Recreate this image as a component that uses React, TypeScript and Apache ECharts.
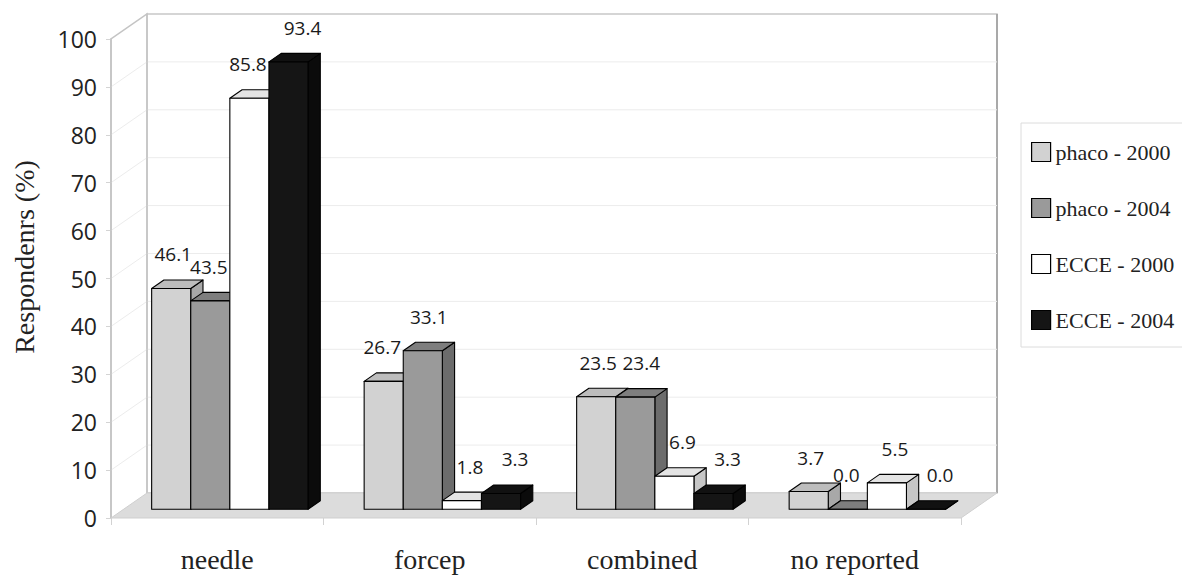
import React, { useEffect, useRef } from "react";
import * as echarts from "echarts";

const categories = ["needle", "forcep", "combined", "no reported"];
const seriesNames = ["phaco - 2000", "phaco - 2004", "ECCE - 2000", "ECCE - 2004"];
const phaco2000 = [46.1, 26.7, 23.5, 3.7];
const phaco2004 = [43.5, 33.1, 23.4, 0.0];
const ecce2000 = [85.8, 1.8, 6.9, 5.5];
const ecce2004 = [93.4, 3.3, 3.3, 0.0];
const yTicks = [0, 10, 20, 30, 40, 50, 60, 70, 80, 90, 100];
const yAxisTitle = "Respondenrs (%)";

const seriesValues = [phaco2000, phaco2004, ecce2000, ecce2004];

// styling: front / top / side shades per series
const frontColors = ["#d2d2d2", "#9a9a9a", "#ffffff", "#151515"];
const topColors = ["#bdbdbd", "#7e7e7e", "#e4e4e4", "#111111"];
const sideColors = ["#a8a8a8", "#6c6c6c", "#c6c6c6", "#0b0b0b"];
const labelDx = [2, 6, 8, 14];
const LABEL_FONT = 19;
const LABEL_HALF_W = 19;

const DX = 36; // depth projection (px)
const DY = 25;
const Z0 = 0.35;
const Z1 = 0.69;
const BAR_FRAC = 0.184;

export default function App() {
  const ref = useRef<HTMLDivElement>(null);
  useEffect(() => {
    document.body.style.margin = "0";
    const chart = echarts.init(ref.current!, null, { renderer: "svg" });

    const frameSeries: any = {
      type: "custom",
      silent: true,
      z: 1,
      data: [[0, 0]],
      encode: { x: 0, y: 1 },
      renderItem: (params: any, api: any) => {
        const cs = params.coordSys;
        const left = cs.x;
        const right = cs.x + cs.width;
        const top = cs.y;
        const bottom = cs.y + cs.height;
        const children: any[] = [];
        children.push({
          type: "rect",
          shape: { x: left + DX, y: top - DY, width: cs.width, height: cs.height },
          style: { fill: "#ffffff", stroke: "#c8c8c8", lineWidth: 1.5 },
        });
        children.push({
          type: "line",
          shape: { x1: right + DX, y1: top - DY, x2: right + DX, y2: bottom - DY },
          style: { stroke: "#a9a9a9", lineWidth: 2 },
        });
        yTicks.forEach((t) => {
          const p = api.coord([0, t]);
          const y = p[1];
          if (t > 0 && t < 100) {
            children.push({
              type: "line",
              shape: { x1: left + DX, y1: y - DY, x2: right + DX, y2: y - DY },
              style: { stroke: "#ececec", lineWidth: 1 },
            });
            children.push({
              type: "line",
              shape: { x1: left, y1: y, x2: left + DX, y2: y - DY },
              style: { stroke: "#ececec", lineWidth: 1 },
            });
          }
        });
        children.push({
          type: "polyline",
          shape: {
            points: [
              [left, bottom],
              [left, top],
              [left + DX, top - DY],
              [left + DX, bottom - DY],
            ],
          },
          style: { stroke: "#c4c4c4", lineWidth: 1.5, fill: "none" },
        });
        children.push({
          type: "polygon",
          shape: {
            points: [
              [left, bottom],
              [right, bottom],
              [right + DX, bottom - DY],
              [left + DX, bottom - DY],
            ],
          },
          style: { fill: "#dcdcdc", stroke: "#cfcfcf", lineWidth: 1 },
        });
        return { type: "group", children };
      },
    };

    const barSeries = seriesValues.map((vals, s) => ({
      type: "custom",
      name: seriesNames[s],
      z: 2,
      itemStyle: { color: frontColors[s], borderColor: "#000", borderWidth: 1 },
      data: vals.map((v, i) => [i, v]),
      encode: { x: 0, y: 1 },
      renderItem: (params: any, api: any) => {
        const ci = api.value(0);
        const v = api.value(1);
        const base = api.coord([ci, 0]);
        const topP = api.coord([ci, v]);
        const band = api.size([1, 0])[0];
        const w = band * BAR_FRAC;
        const x0 = base[0] + (s - 2) * w + Z0 * DX;
        const x1 = x0 + w;
        const yb = base[1] - Z0 * DY;
        const yt = topP[1] - Z0 * DY;
        const ddx = (Z1 - Z0) * DX;
        const ddy = (Z1 - Z0) * DY;
        const stroke = { stroke: "#000", lineWidth: 1.1, lineJoin: "round" };
        // label placement, kept clear of a taller neighbouring bar
        let lx = x0 + w / 2 + labelDx[s];
        const ly = yt - 34;
        if (s < seriesValues.length - 1) {
          const nextTop = api.coord([ci, seriesValues[s + 1][ci]])[1] - Z1 * DY;
          if (nextTop < ly + LABEL_FONT / 2) {
            lx = Math.min(lx, x1 - LABEL_HALF_W - 2);
          }
        }
        return {
          type: "group",
          children: [
            {
              type: "polygon",
              shape: {
                points: [
                  [x1, yb],
                  [x1 + ddx, yb - ddy],
                  [x1 + ddx, yt - ddy],
                  [x1, yt],
                ],
              },
              style: { fill: sideColors[s], ...stroke },
            },
            {
              type: "polygon",
              shape: {
                points: [
                  [x0, yt],
                  [x1, yt],
                  [x1 + ddx, yt - ddy],
                  [x0 + ddx, yt - ddy],
                ],
              },
              style: { fill: topColors[s], ...stroke },
            },
            {
              type: "rect",
              shape: { x: x0, y: yt, width: w, height: yb - yt },
              style: { fill: frontColors[s], ...stroke },
            },
            {
              type: "text",
              z2: 100,
              x: lx,
              y: ly,
              style: {
                text: v.toFixed(1),
                fontFamily: "Open Sans",
                fontSize: LABEL_FONT,
                fill: "#1a1a1a",
                align: "center",
                verticalAlign: "middle",
              },
            },
          ],
        };
      },
    }));

    chart.setOption({
      animation: false,
      grid: { left: 111, right: 221, top: 39, bottom: 60 },
      legend: {
        orient: "vertical",
        left: 1021,
        top: 123,
        padding: [18, 40, 16, 10],
        itemWidth: 19,
        itemHeight: 19,
        itemGap: 34,
        borderColor: "#dcdcdc",
        borderWidth: 1,
        selectedMode: false,
        textStyle: { fontFamily: "Liberation Serif", fontSize: 22, color: "#222" },
        data: seriesNames.map((n, i) => ({
          name: n,
          icon: "rect",
          itemStyle: { color: frontColors[i], borderColor: "#000", borderWidth: 1.2 },
        })),
      },
      xAxis: {
        type: "category",
        data: categories,
        axisLine: { show: false },
        axisTick: { show: true, length: 7, lineStyle: { color: "#d2d2d2" } },
        axisLabel: {
          margin: 27,
          fontFamily: "Liberation Serif",
          fontSize: 28,
          color: "#222",
        },
      },
      yAxis: {
        type: "value",
        min: 0,
        max: 100,
        interval: 10,
        axisLine: { show: true, lineStyle: { color: "#c4c4c4", width: 1.5 } },
        axisTick: { show: true, length: 5, lineStyle: { color: "#d4d4d4" } },
        splitLine: { show: false },
        axisLabel: {
          margin: 14,
          fontFamily: "Open Sans",
          fontSize: 23,
          color: "#222",
        },
      },
      graphic: [
        {
          type: "text",
          x: 24,
          y: 257,
          rotation: Math.PI / 2,
          style: {
            text: yAxisTitle,
            fontFamily: "Liberation Serif",
            fontSize: 28,
            fill: "#222",
            align: "center",
            verticalAlign: "middle",
          },
        },
      ],
      series: [frameSeries, ...barSeries],
    });
    return () => chart.dispose();
  }, []);
  return <div ref={ref} style={{ width: 1182, height: 578 }} />;
}
